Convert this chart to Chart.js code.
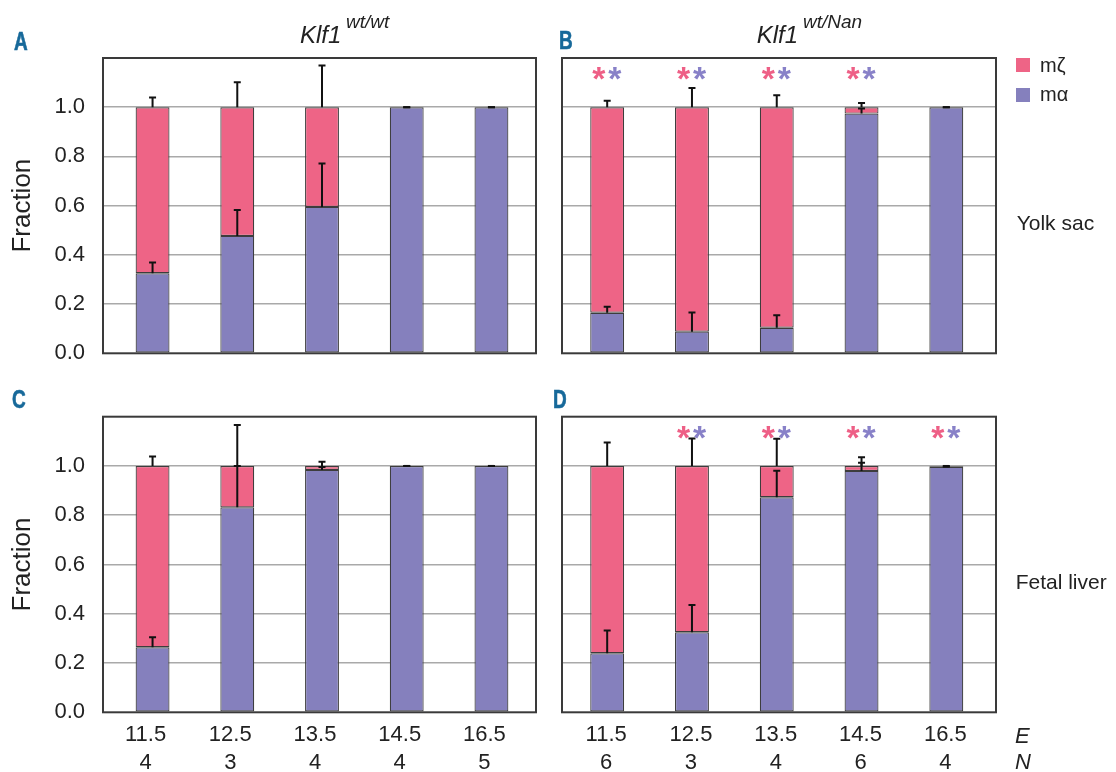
<!DOCTYPE html>
<html>
<head>
<meta charset="utf-8">
<script src="https://cdn.jsdelivr.net/npm/chart.js@4.4.1/dist/chart.umd.min.js"></script>
<style>
  html, body { margin:0; padding:0; background:#fff; }
  body { width:1116px; height:772px; position:relative; overflow:hidden;
         font-family:"Liberation Sans", Arial, Helvetica, sans-serif; color:#222; }
  canvas { position:absolute; }
  .t { position:absolute; white-space:nowrap; line-height:1; }
  .lbl { font-weight:bold; color:#17699a; transform:scaleX(0.76); transform-origin:left top; font-size:25px; -webkit-text-stroke:0.6px #17699a; }
  .sq { position:absolute; width:14px; height:14px; }
</style>
</head>
<body>
<canvas id="cA" width="540" height="380" style="left:0;top:0;width:540px;height:380px"></canvas>
<canvas id="cB" width="576" height="380" style="left:540px;top:0;width:576px;height:380px"></canvas>
<canvas id="cC" width="540" height="392" style="left:0;top:380px;width:540px;height:392px"></canvas>
<canvas id="cD" width="576" height="392" style="left:540px;top:380px;width:576px;height:392px"></canvas>

<!-- panel letters -->
<div class="t lbl" style="left:14px;top:28.8px">A</div>
<div class="t lbl" style="left:559px;top:28.1px">B</div>
<div class="t lbl" style="left:12px;top:387.1px">C</div>
<div class="t lbl" style="left:553px;top:387.1px">D</div>

<!-- column titles -->
<div class="t" style="left:300px;top:23px;font-size:24px;font-style:italic">Klf1</div>
<div class="t" style="left:346px;top:12px;font-size:19px;font-style:italic">wt/wt</div>
<div class="t" style="left:756.7px;top:23px;font-size:24px;font-style:italic">Klf1</div>
<div class="t" style="left:803px;top:12px;font-size:19px;font-style:italic">wt/Nan</div>

<!-- legend -->
<div class="sq" style="left:1016px;top:58.3px;background:#ee6486"></div>
<div class="sq" style="left:1016px;top:88.3px;background:#8580bd"></div>
<div class="t" style="left:1040px;top:54.8px;font-size:20px">mζ</div>
<div class="t" style="left:1040px;top:84px;font-size:20px">mα</div>

<!-- row labels -->
<div class="t" style="left:1016.7px;top:212.2px;font-size:21px">Yolk sac</div>
<div class="t" style="left:1015.7px;top:570.5px;font-size:21px">Fetal liver</div>
<div class="t" style="left:1015px;top:724.7px;font-size:22px;font-style:italic">E</div>
<div class="t" style="left:1015px;top:751.4px;font-size:22px;font-style:italic">N</div>

<script>
// ---------- data ----------
const stages = ['11.5', '12.5', '13.5', '14.5', '16.5'];
const nWT  = ['4', '3', '4', '4', '5'];
const nNan = ['6', '3', '4', '6', '4'];

// A: yolk sac, Klf1 wt/wt
const yolkWT_alpha    = [0.325, 0.477, 0.595, 1.000, 1.000];
const yolkWT_zeta     = [0.675, 0.523, 0.405, 0.000, 0.000];
const yolkWT_alphaErr = [0.044, 0.105, 0.176, 0.000, 0.000];
const yolkWT_zetaErr  = [0.039, 0.101, 0.170, 0.000, 0.000];

// B: yolk sac, Klf1 wt/Nan
const yolkNan_alpha    = [0.165, 0.088, 0.104, 0.974, 1.000];
const yolkNan_zeta     = [0.835, 0.912, 0.896, 0.026, 0.000];
const yolkNan_alphaErr = [0.024, 0.078, 0.051, 0.021, 0.000];
const yolkNan_zetaErr  = [0.026, 0.078, 0.049, 0.017, 0.000];
const yolkNan_signif   = [true, true, true, true, false];

// C: fetal liver, Klf1 wt/wt
const liverWT_alpha    = [0.264, 0.832, 0.984, 1.000, 1.000];
const liverWT_zeta     = [0.736, 0.168, 0.016, 0.000, 0.000];
const liverWT_alphaErr = [0.041, 0.168, 0.012, 0.000, 0.000];
const liverWT_zetaErr  = [0.038, 0.166, 0.017, 0.000, 0.000];

// D: fetal liver, Klf1 wt/Nan
const liverNan_alpha    = [0.240, 0.325, 0.873, 0.980, 0.997];
const liverNan_zeta     = [0.760, 0.675, 0.127, 0.020, 0.003];
const liverNan_alphaErr = [0.092, 0.111, 0.108, 0.033, 0.000];
const liverNan_zetaErr  = [0.095, 0.112, 0.110, 0.035, 0.000];
const liverNan_signif   = [false, true, true, true, true];

const yTickValues = [0, 0.2, 0.4, 0.6, 0.8, 1.0];

// ---------- style ----------
const PINK = '#ee6486', PURPLE = '#8580bd';
const STAR_PINK = '#ee5f86', STAR_PURPLE = '#8881c8';
const FRAME = '#3a3a3a', GRID = '#a9a9a9', TEXT = '#222', BAR_EDGE = '#3d3d3d';
const FONT = '"Liberation Sans", Arial, Helvetica, sans-serif';
const Y_MAX = 1.2, STAR_LEVEL = 1.137;

function makePanel(id, p) {
  const decor = {
    id: 'panelDecor',
    afterLayout(chart) {
      const x = chart.scales.x, a = chart.chartArea;
      x.left = a.left + p.inset[0];
      x.right = a.right - p.inset[1];
      x.width = x.right - x.left;
      x.configure();
    },
    afterDatasetsDraw(chart) {
      const c = chart.ctx, y = chart.scales.y, a = chart.chartArea;
      c.save();
      // error bars (upward only)
      c.strokeStyle = '#111';
      c.lineWidth = 2;
      c.lineCap = 'butt';
      const series = [
        { meta: chart.getDatasetMeta(0), top: i => p.alpha[i], err: p.alphaErr },
        { meta: chart.getDatasetMeta(1), top: i => p.alpha[i] + p.zeta[i], err: p.zetaErr }
      ];
      series.forEach(s => s.meta.data.forEach((bar, i) => {
        const bx = bar.x;
        const y0 = y.getPixelForValue(s.top(i));
        const y1 = y.getPixelForValue(s.top(i) + s.err[i]);
        c.beginPath();
        c.moveTo(bx, y0); c.lineTo(bx, y1);
        c.moveTo(bx - 3.5, y1); c.lineTo(bx + 3.5, y1);
        c.stroke();
      }));
      // plot frame
      c.strokeStyle = FRAME;
      c.lineWidth = 2;
      c.strokeRect(a.left, a.top, a.right - a.left, a.bottom - a.top);
      // significance asterisks
      if (p.signif) {
        c.font = 'bold 40px ' + FONT;
        let m = c.measureText('*');
        const h0 = m.actualBoundingBoxAscent + m.actualBoundingBoxDescent;
        const fs = 40 * 13.5 / h0;
        c.font = 'bold ' + fs + 'px ' + FONT;
        m = c.measureText('*');
        c.textAlign = 'left';
        c.textBaseline = 'alphabetic';
        const yc = y.getPixelForValue(STAR_LEVEL);
        const base = yc + (m.actualBoundingBoxAscent - m.actualBoundingBoxDescent) / 2;
        const dx = (m.actualBoundingBoxRight - m.actualBoundingBoxLeft) / 2;
        chart.getDatasetMeta(0).data.forEach((bar, i) => {
          if (!p.signif[i]) return;
          c.fillStyle = STAR_PINK;
          c.fillText('*', bar.x - 8 - dx, base);
          c.fillStyle = STAR_PURPLE;
          c.fillText('*', bar.x + 8 - dx, base);
        });
      }
      c.restore();
    }
  };

  const labels = p.nLabels ? stages.map((s, i) => [s, p.nLabels[i]]) : stages.slice();

  return new Chart(document.getElementById(id), {
    type: 'bar',
    data: {
      labels: labels,
      datasets: [
        { label: 'mα', data: p.alpha, backgroundColor: PURPLE, borderColor: BAR_EDGE,
          borderWidth: 1.2, borderSkipped: false, barPercentage: 0.4, categoryPercentage: 1.0 },
        { label: 'mζ', data: p.zeta, backgroundColor: PINK, borderColor: BAR_EDGE,
          borderWidth: 1.2, borderSkipped: false, barPercentage: 0.4, categoryPercentage: 1.0 }
      ]
    },
    options: {
      responsive: false,
      animation: false,
      devicePixelRatio: 1,
      layout: { padding: p.padding },
      plugins: { legend: { display: false }, tooltip: { enabled: false } },
      scales: {
        x: {
          type: 'category',
          stacked: true,
          offset: true,
          grid: { display: false, drawTicks: false },
          border: { display: false },
          ticks: {
            display: !!p.nLabels,
            autoSkip: false, maxRotation: 0, minRotation: 0,
            padding: 9,
            labelOffset: p.labelOffset,
            color: TEXT,
            font: { family: FONT, size: 22, lineHeight: 1.25 }
          },
          afterFit: s => { s.height = p.xHeight; s.paddingLeft = 0; s.paddingRight = 0; }
        },
        y: {
          stacked: true,
          min: 0, max: Y_MAX,
          afterBuildTicks: s => {
            s.ticks = yTickValues.concat([Y_MAX]).map(v => ({ value: v }));
          },
          ticks: {
            display: p.showY,
            padding: 18,
            color: TEXT,
            font: { family: FONT, size: 22 },
            callback: v => (v > 1.05 ? '' : Number(v).toFixed(1))
          },
          grid: {
            drawTicks: false,
            lineWidth: 1.5,
            color: ctx => (ctx.tick && ctx.tick.value > 0.05 && ctx.tick.value < 1.1) ? GRID : 'rgba(0,0,0,0)'
          },
          border: { display: false },
          title: {
            display: p.showY,
            text: 'Fraction',
            color: TEXT,
            font: { family: FONT, size: 26 },
            padding: { top: 7, bottom: 0 }
          },
          afterFit: s => { s.width = p.yWidth; s.paddingTop = 0; s.paddingBottom = 0; }
        }
      }
    },
    plugins: [decor]
  });
}

makePanel('cA', {
  alpha: yolkWT_alpha, zeta: yolkWT_zeta, alphaErr: yolkWT_alphaErr, zetaErr: yolkWT_zetaErr,
  signif: null, nLabels: null, showY: true, yWidth: 103, xHeight: 26.7,
  padding: { left: 0, top: 58, right: 4, bottom: 0 }, inset: [7.2, 2.2], labelOffset: 0
});
makePanel('cB', {
  alpha: yolkNan_alpha, zeta: yolkNan_zeta, alphaErr: yolkNan_alphaErr, zetaErr: yolkNan_zetaErr,
  signif: yolkNan_signif, nLabels: null, showY: false, yWidth: 0, xHeight: 26.7,
  padding: { left: 22, top: 58, right: 120, bottom: 0 }, inset: [2.8, 7.3], labelOffset: 0
});
makePanel('cC', {
  alpha: liverWT_alpha, zeta: liverWT_zeta, alphaErr: liverWT_alphaErr, zetaErr: liverWT_zetaErr,
  signif: null, nLabels: nWT, showY: true, yWidth: 103, xHeight: 59.7,
  padding: { left: 0, top: 36.7, right: 4, bottom: 0 }, inset: [7.2, 2.2], labelOffset: -7
});
makePanel('cD', {
  alpha: liverNan_alpha, zeta: liverNan_zeta, alphaErr: liverNan_alphaErr, zetaErr: liverNan_zetaErr,
  signif: liverNan_signif, nLabels: nNan, showY: false, yWidth: 0, xHeight: 59.7,
  padding: { left: 22, top: 36.7, right: 120, bottom: 0 }, inset: [2.8, 7.3], labelOffset: -1
});
</script>
</body>
</html>
